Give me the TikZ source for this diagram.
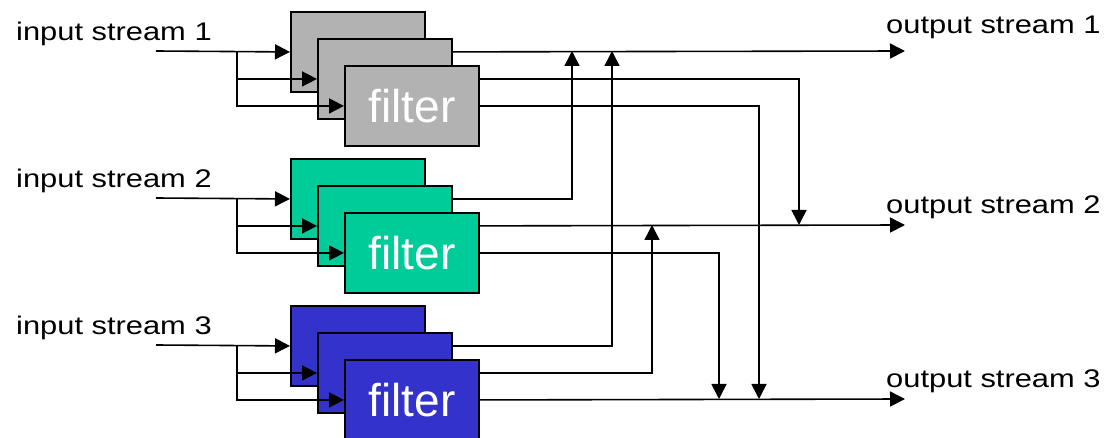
\documentclass[tikz,border=0pt]{standalone}
\usepackage{fontspec}
\setmainfont{Liberation Sans}
\usetikzlibrary{arrows.meta}
\pgfdeclarelayer{background}
\pgfsetlayers{background,main}

\definecolor{filtergray}{HTML}{B2B2B2}
\definecolor{filtergreen}{HTML}{00CC99}
\definecolor{filterblue}{HTML}{3333CC}

\tikzset{
  filterbox/.style={draw=black, line width=1.9pt, minimum width=134pt,
    minimum height=80pt, inner sep=0pt, anchor=north west,
    text=white, font=\fontsize{46}{50}\selectfont},
  wire/.style={line width=1.6pt},
  flow/.style={wire, -{Triangle[length=15pt,width=15pt]}},
  streamlabel/.style={anchor=base west, inner sep=0pt,
    font=\fontsize{25.5}{30}\selectfont},
}

% One stack of three filters: prefix, top edge, fill colour.
% The inputs fan out from a branch point and feed each filter in turn.
\newcommand\filterstack[3]{%
  \coordinate (#1in) at (156,{#2+40});
  \coordinate (#1br) at (237,{#2+40});
  \node[filterbox, fill=#3] (#1a) at (290,#2) {};
  \draw[flow] (#1in) -- (#1a.west);
  \node[filterbox, fill=#3] (#1b) at (317,{#2+27}) {};
  \draw[flow] (#1br) |- (#1b.west);
  \node[filterbox, fill=#3] (#1c) at (344,{#2+54}) {filter};
  \draw[flow] (#1br) |- (#1c.west);
}

\begin{document}
\begin{tikzpicture}[x=1pt,y=-1pt]
  \useasboundingbox (0,0) rectangle (1109,438);

  % filter stacks
  \filterstack{g1}{11}{filtergray}
  \filterstack{g2}{158}{filtergreen}
  \filterstack{g3}{305}{filterblue}

  % stream labels
  \node[streamlabel] (lin1) at (16,41)  {\scalebox{1.21}[1]{input stream 1}};
  \node[streamlabel] (lin2) at (16,188) {\scalebox{1.21}[1]{input stream 2}};
  \node[streamlabel] (lin3) at (16,335) {\scalebox{1.21}[1]{input stream 3}};
  \node[streamlabel] (lout1) at (886,34)  {\scalebox{1.21}[1]{output stream 1}};
  \node[streamlabel] (lout2) at (886,214) {\scalebox{1.21}[1]{output stream 2}};
  \node[streamlabel] (lout3) at (886,388) {\scalebox{1.21}[1]{output stream 3}};

  % output streams and the points where other filters merge into them
  \coordinate (out1) at (905,51);
  \coordinate (out2) at (905,225);
  \coordinate (out3) at (905,399);
  \coordinate (m1a) at (572,51);
  \coordinate (m1b) at (612,51);
  \coordinate (m2a) at (652,225);
  \coordinate (m2b) at (799,225);
  \coordinate (m3a) at (719,399);
  \coordinate (m3b) at (759,399);

  \begin{pgfonlayer}{background}
    \draw[flow] (g1a.east) -- (out1);
    \draw[flow] (g1b.east) -| (m2b);
    \draw[flow] (g1c.east) -| (m3b);
    \draw[flow] (g2a.east) -| (m1a);
    \draw[flow] (g2b.east) -- (out2);
    \draw[flow] (g2c.east) -| (m3a);
    \draw[flow] (g3a.east) -| (m1b);
    \draw[flow] (g3b.east) -| (m2a);
    \draw[flow] (g3c.east) -- (out3);
  \end{pgfonlayer}
\end{tikzpicture}
\end{document}
